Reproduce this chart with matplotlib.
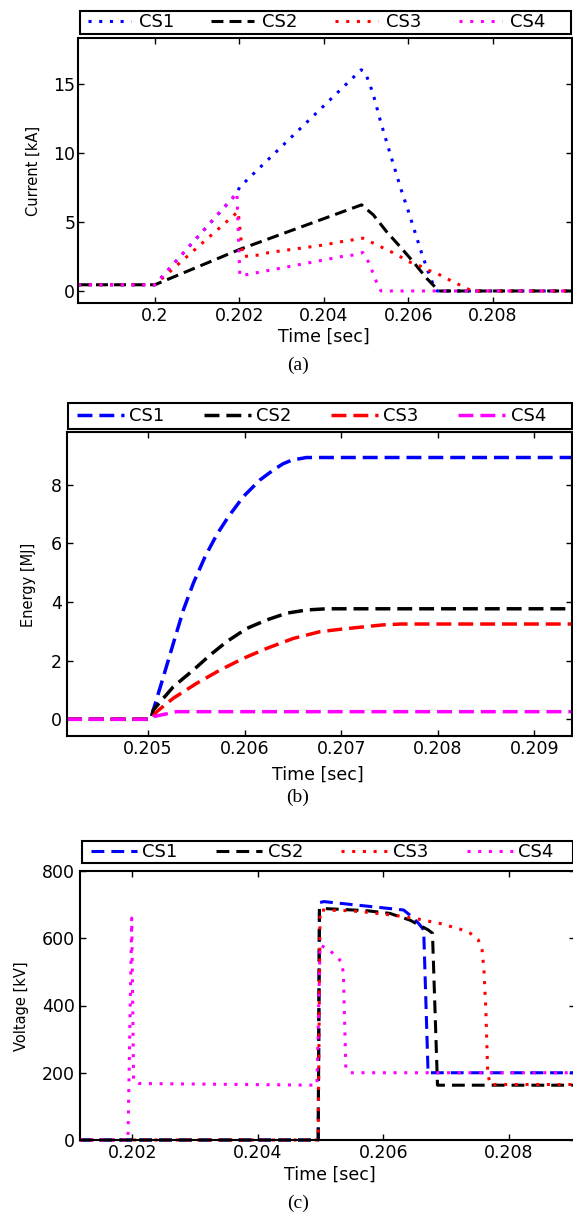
import matplotlib
matplotlib.use("Agg")
import matplotlib.pyplot as plt
from matplotlib.patches import Rectangle

plt.rcParams['font.family'] = ['DejaVu Sans']

W, H = 573, 1217

# ---------------- data ----------------
series_labels = ["CS1", "CS2", "CS3", "CS4"]
series_colors = ["#0000ff", "#000000", "#ff0000", "#ff00ff"]

# (a) breaker currents [kA]
t_a_cs1 = [0.19818, 0.2, 0.20195, 0.202, 0.20488, 0.20498, 0.20516, 0.20535, 0.20556,
           0.20584, 0.206, 0.20615, 0.2063, 0.20645, 0.20663, 0.20668, 0.20987]
i_a_cs1 = [0.45, 0.45, 7.1, 7.5, 16.0, 15.8, 14.3, 12.15, 10.0, 7.2, 5.75, 4.3, 2.85,
           1.52, 0.12, 0.0, 0.0]
t_a_cs2 = [0.19818, 0.2, 0.202, 0.20489, 0.20517, 0.20548, 0.2058, 0.20611, 0.20643,
           0.20672, 0.20987]
i_a_cs2 = [0.45, 0.45, 3.0, 6.23, 5.5, 4.3, 3.21, 2.12, 0.92, 0.0, 0.0]
t_a_cs3 = [0.19818, 0.2, 0.20197, 0.20208, 0.20246, 0.2027, 0.20327, 0.204, 0.20442,
           0.20469, 0.20492, 0.20514, 0.20537, 0.20558, 0.2058, 0.206, 0.20623, 0.20645,
           0.20667, 0.20689, 0.2071, 0.2073, 0.2075, 0.20987]
i_a_cs3 = [0.45, 0.45, 5.75, 2.49, 2.6, 2.78, 3.02, 3.33, 3.57, 3.7, 3.82, 3.5, 3.16,
           2.85, 2.49, 2.12, 1.88, 1.52, 1.28, 0.92, 0.6, 0.31, 0.0, 0.0]
t_a_cs4 = [0.19818, 0.2, 0.20194, 0.20201, 0.20442, 0.20469, 0.20492, 0.20505, 0.20514,
           0.20523, 0.20535, 0.20987]
i_a_cs4 = [0.45, 0.45, 7.1, 1.09, 2.49, 2.6, 2.78, 2.12, 1.45, 0.75, 0.0, 0.0]
xticks_a = [0.2, 0.202, 0.204, 0.206, 0.208]
xticklabels_a = ["0.2", "0.202", "0.204", "0.206", "0.208"]
yticks_a = [0, 5, 10, 15]

# (b) absorbed energy [MJ]
t_b_cs1 = [0.20416, 0.20503, 0.205055, 0.205159, 0.205262, 0.205366, 0.205469, 0.205591,
           0.205712, 0.205832, 0.205988, 0.206161, 0.2063, 0.2064, 0.20649, 0.20664, 0.20939]
e_b_cs1 = [0.0, 0.0, 0.32, 1.45, 2.59, 3.73, 4.64, 5.55, 6.3, 6.91, 7.6, 8.17, 8.51,
           8.72, 8.84, 8.93, 8.93]
t_b_cs2 = [0.20416, 0.20503, 0.205055, 0.205262, 0.205469, 0.205642, 0.205815, 0.206023,
           0.20623, 0.206437, 0.206645, 0.20685, 0.20939]
e_b_cs2 = [0.0, 0.0, 0.32, 1.11, 1.68, 2.19, 2.65, 3.1, 3.39, 3.62, 3.73, 3.77, 3.77]
t_b_cs3 = [0.20416, 0.20503, 0.20509, 0.205262, 0.205505, 0.205746, 0.205988, 0.20623,
           0.206506, 0.206782, 0.20699, 0.20743, 0.20762, 0.20939]
e_b_cs3 = [0.0, 0.0, 0.26, 0.72, 1.23, 1.68, 2.08, 2.42, 2.76, 2.99, 3.07, 3.22, 3.25, 3.25]
t_b_cs4 = [0.20416, 0.20503, 0.205055, 0.205297, 0.20939]
e_b_cs4 = [0.0, 0.0, 0.09, 0.26, 0.26]
xticks_b = [0.205, 0.206, 0.207, 0.208, 0.209]
xticklabels_b = ["0.205", "0.206", "0.207", "0.208", "0.209"]
yticks_b = [0, 2, 4, 6, 8]

# (c) breaker voltages [kV]
t_c_cs1 = [0.20116, 0.20496, 0.20498, 0.20505, 0.20632, 0.20642, 0.20656, 0.20664, 0.20671, 0.20905]
v_c_cs1 = [0, 0, 706, 709, 684, 669, 644, 625, 200, 200]
t_c_cs2 = [0.20116, 0.20496, 0.20498, 0.20573, 0.2061, 0.20642, 0.20671, 0.20678, 0.20686, 0.20905]
v_c_cs2 = [0, 0, 689, 682, 674, 654, 625, 615, 163, 163]
t_c_cs3 = [0.20116, 0.20496, 0.20499, 0.20544, 0.20576, 0.20626, 0.20658, 0.2069, 0.20722,
           0.20738, 0.20751, 0.20757, 0.2076, 0.20763, 0.20766, 0.2077, 0.20905]
v_c_cs3 = [0, 0, 684, 682, 677, 666, 656, 644, 627, 615, 595, 565, 505, 387, 198, 165, 165]
t_c_cs4 = [0.20116, 0.20193, 0.20199, 0.20202, 0.20211, 0.20494, 0.20499, 0.20507, 0.2052,
           0.20532, 0.20536, 0.2054, 0.20546, 0.20905]
v_c_cs4 = [0, 0, 660, 175, 168, 163, 580, 572, 555, 532, 500, 215, 200, 200]
xticks_c = [0.202, 0.204, 0.206, 0.208]
xticklabels_c = ["0.202", "0.204", "0.206", "0.208"]
yticks_c = [0, 200, 400, 600, 800]

# ---------------- styles ----------------
DOT = (0, (1, 2.5))
DASH_A = (0, (3.9, 2.0))
DASH_B = (0, (4.3, 2.0))
DASH_C = (0, (4.2, 2.3))

TICK_FS = 12.5
LABEL_FS = 12.5
LEG_FS = 13


def fx(px):
    return px / W


def fy(py):
    return 1 - py / H


def make_axes(fig, left, top, right, bottom):
    return fig.add_axes([fx(left), fy(bottom), fx(right - left), (bottom - top) / H])


def style_axes(ax, xlim, ylim, xticks, xticklabels, yticks, ypad):
    ax.set_xlim(*xlim)
    ax.set_ylim(*ylim)
    ax.set_xticks(xticks)
    ax.set_xticklabels(xticklabels)
    ax.set_yticks(yticks)
    ax.set_yticklabels([str(v) for v in yticks])
    ax.tick_params(direction='in', length=4, width=1, top=True, right=True,
                   labelsize=TICK_FS, color='black')
    ax.tick_params(axis='x', pad=3)
    ax.tick_params(axis='y', pad=ypad)
    for s in ax.spines.values():
        s.set_linewidth(1.5)
        s.set_color('black')


def add_legend(fig, lines, frame, entries, handlelength, handletextpad):
    x0, y0, x1, y1 = frame
    fig.patches.append(Rectangle((fx(x0), fy(y1)), fx(x1 - x0), (y1 - y0) / H,
                                 transform=fig.transFigure, fill=False,
                                 edgecolor='black', linewidth=1.5, zorder=5))
    e0, e1 = entries
    fig.legend(lines, series_labels, loc='center', ncol=4, mode='expand',
               bbox_to_anchor=(fx(e0), fy(y1), fx(e1 - e0), (y1 - y0) / H),
               frameon=False, borderpad=0, borderaxespad=0, fontsize=LEG_FS,
               handlelength=handlelength, handletextpad=handletextpad)


fig = plt.figure(figsize=(W / 100, H / 100), dpi=100)
fig.patch.set_facecolor('white')

# ---------------- (a) current ----------------
ax_a = make_axes(fig, 78, 38, 572, 303)
styles_a = [DOT, DASH_A, DOT, DOT]
data_a = [(t_a_cs1, i_a_cs1), (t_a_cs2, i_a_cs2), (t_a_cs3, i_a_cs3), (t_a_cs4, i_a_cs4)]
lines_a = []
for (t, y), c, ls in zip(data_a, series_colors, styles_a):
    ln, = ax_a.plot(t, y, color=c, linestyle=ls, linewidth=2.2)
    lines_a.append(ln)
style_axes(ax_a, (0.19818, 0.20987), (-0.87, 18.3), xticks_a, xticklabels_a, yticks_a, 2)
add_legend(fig, lines_a, (80, 11, 571, 33.5), (88, 545), 2.38, 0.44)
fig.text(fx(33), fy(171), "Current [kA]", rotation=90, ha='center', va='center', fontsize=10.5)
fig.text(fx(324), fy(337), "Time [sec]", ha='center', va='center', fontsize=LABEL_FS)
fig.text(fx(298), fy(365), "(a)", ha='center', va='center', fontsize=14,
         family='Liberation Serif')

# ---------------- (b) energy ----------------
ax_b = make_axes(fig, 66.9, 432, 572, 736)
data_b = [(t_b_cs1, e_b_cs1), (t_b_cs2, e_b_cs2), (t_b_cs3, e_b_cs3), (t_b_cs4, e_b_cs4)]
lines_b = []
for (t, y), c in zip(data_b, series_colors):
    ln, = ax_b.plot(t, y, color=c, linestyle=DASH_B, linewidth=2.5)
    lines_b.append(ln)
style_axes(ax_b, (0.20416, 0.20939), (-0.57, 9.8), xticks_b, xticklabels_b, yticks_b, 3.5)
add_legend(fig, lines_b, (67.6, 402.7, 572, 429.3), (76.7, 546), 2.6, 0.3)
fig.text(fx(28.5), fy(585), "Energy [MJ]", rotation=90, ha='center', va='center', fontsize=10.5)
fig.text(fx(318), fy(775), "Time [sec]", ha='center', va='center', fontsize=LABEL_FS)
fig.text(fx(298), fy(797), "(b)", ha='center', va='center', fontsize=14,
         family='Liberation Serif')

# ---------------- (c) voltage ----------------
ax_c = make_axes(fig, 79.6, 871, 575, 1140)
styles_c = [DASH_C, DASH_C, DOT, DOT]
data_c = [(t_c_cs1, v_c_cs1), (t_c_cs2, v_c_cs2), (t_c_cs3, v_c_cs3), (t_c_cs4, v_c_cs4)]
lines_c = []
for (t, y), c, ls in zip(data_c, series_colors, styles_c):
    ln, = ax_c.plot(t, y, color=c, linestyle=ls, linewidth=2.2, clip_on=False)
    lines_c.append(ln)
style_axes(ax_c, (0.20116, 0.20905), (0, 800), xticks_c, xticklabels_c, yticks_c, 3.3)
add_legend(fig, lines_c, (82, 840.7, 572.7, 863), (91, 553.5), 2.55, 0.3)
fig.text(fx(22), fy(1006), "Voltage [kV]", rotation=90, ha='center', va='center', fontsize=10.5)
fig.text(fx(330), fy(1175), "Time [sec]", ha='center', va='center', fontsize=LABEL_FS)
fig.text(fx(298), fy(1203), "(c)", ha='center', va='center', fontsize=14,
         family='Liberation Serif')

fig.savefig("out.png", dpi=100, facecolor='white')
